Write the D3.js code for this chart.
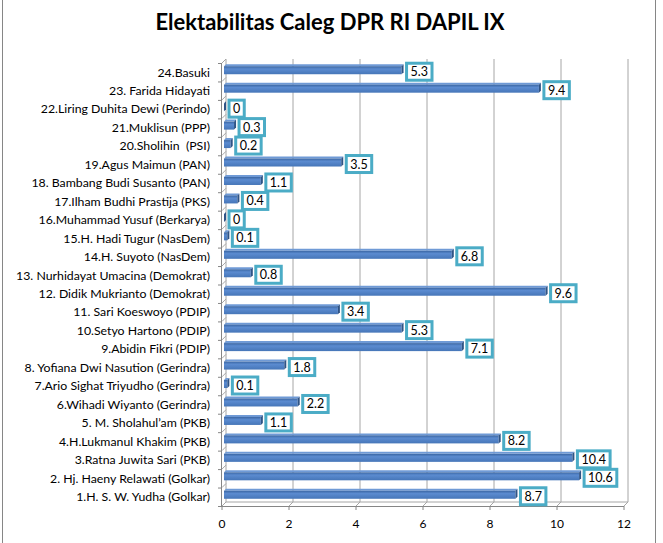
<!DOCTYPE html>
<html><head><meta charset="utf-8">
<script src="https://cdn.jsdelivr.net/npm/d3@7"></script>
<style>body{margin:0;background:#fff}svg{display:block}text{font-family:Lato,"Open Sans",sans-serif}</style>
</head><body><svg id="c" width="663" height="543"></svg>
<script>
const categories = [
"1.H. S. W. Yudha (Golkar)","2. Hj. Haeny Relawati (Golkar)","3.Ratna Juwita Sari (PKB)","4.H.Lukmanul Khakim (PKB)",
"5. M. Sholahul\u2019am (PKB)","6.Wihadi Wiyanto (Gerindra)","7.Ario Sighat Triyudho (Gerindra)","8. Yofiana Dwi Nasution (Gerindra)",
"9.Abidin Fikri (PDIP)","10.Setyo Hartono (PDIP)","11. Sari Koeswoyo (PDIP)","12. Didik Mukrianto (Demokrat)",
"13. Nurhidayat Umacina (Demokrat)","14.H. Suyoto (NasDem)","15.H. Hadi Tugur (NasDem)","16.Muhammad Yusuf (Berkarya)",
"17.Ilham Budhi Prastija (PKS)","18. Bambang Budi Susanto (PAN)","19.Agus Maimun (PAN)","20.Sholihin  (PSI)",
"21.Muklisun (PPP)","22.Liring Duhita Dewi (Perindo)","23. Farida Hidayati","24.Basuki"];
const values = [8.7,10.6,10.4,8.2,1.1,2.2,0.1,1.8,7.1,5.3,3.4,9.6,0.8,6.8,0.1,0,0.4,1.1,3.5,0.2,0.3,0,9.4,5.3];
const xTicks = [0,2,4,6,8,10,12];
const title = "Elektabilitas Caleg DPR RI DAPIL IX";

const svg = d3.select("#c");
const D = 4; // 3D depth
const x = d3.scaleLinear().domain([0,12]).range([222,624]);
const y = d3.scaleBand().domain(categories).range([506,63]);

// outer frame
svg.append("rect").attr("x",2.5).attr("y",-5).attr("width",653).attr("height",560)
  .attr("fill","none").attr("stroke","#868686");

svg.append("text").attr("x",330).attr("y",30).attr("text-anchor","middle")
  .attr("font-size",22).attr("font-weight","bold").attr("fill","#000").text(title);

const grid = svg.append("g").attr("stroke","#a6a6a6").attr("fill","none");
xTicks.forEach(t=>{
  grid.append("line").attr("x1",x(t)+D).attr("x2",x(t)+D).attr("y1",63-D).attr("y2",506-D);
  grid.append("line").attr("x1",x(t)).attr("x2",x(t)+D).attr("y1",506).attr("y2",506-D);
});
grid.append("line").attr("x1",x(0)+D).attr("x2",x(12)+D).attr("y1",506-D).attr("y2",506-D);
y.domain().forEach(c=>{
  const yy = y(c);
  grid.append("line").attr("x1",x(0)).attr("x2",x(0)+D).attr("y1",yy).attr("y2",yy-D);
});
grid.append("line").attr("x1",x(0)).attr("x2",x(0)+D).attr("y1",63).attr("y2",63-D);

const axG = svg.append("g").attr("stroke","#868686");
axG.append("line").attr("x1",x(0)).attr("x2",x(12)).attr("y1",506.5).attr("y2",506.5);
axG.append("line").attr("x1",x(0)-0.5).attr("x2",x(0)-0.5).attr("y1",63).attr("y2",506);
xTicks.forEach(t=>axG.append("line").attr("x1",x(t)).attr("x2",x(t)).attr("y1",506).attr("y2",510));
categories.forEach(c=>axG.append("line").attr("x1",x(0)-4).attr("x2",x(0)).attr("y1",y(c)+0.5).attr("y2",y(c)+0.5));
axG.append("line").attr("x1",x(0)-4).attr("x2",x(0)).attr("y1",506.5).attr("y2",506.5);

svg.append("g").selectAll("text").data(xTicks).join("text")
  .attr("x",d=>x(d)).attr("y",528).attr("text-anchor","middle").attr("font-size",12).attr("fill","#000").text(d=>d);

svg.append("g").selectAll("text").data(categories).join("text")
  .attr("x",210).attr("y",d=>y(d)+y.bandwidth()/2+4.3).attr("text-anchor","end")
  .attr("font-size",12.3).attr("fill","#000").style("white-space","pre").text(d=>d);

const defs = svg.append("defs");
const g = defs.append("linearGradient").attr("id","bg").attr("x1",0).attr("x2",0).attr("y1",0).attr("y2",1);
g.append("stop").attr("offset","0%").attr("stop-color","#3a66a3");
g.append("stop").attr("offset","35%").attr("stop-color","#5b8bd0");
g.append("stop").attr("offset","100%").attr("stop-color","#4676b8");

const bars = svg.append("g");
const H = 8;
categories.forEach((c,i)=>{
  const v = values[i];
  const cy = y(c)+y.bandwidth()/2 - 2;
  const x0 = x(0)+2, x1 = x(v)+2;
  const gb = bars.append("g");
  gb.append("polygon").attr("points",`${x0},${cy-H/2} ${x1},${cy-H/2} ${x1+2},${cy-H/2-2} ${x0+2},${cy-H/2-2}`).attr("fill","#6f9ad6");
  gb.append("rect").attr("x",x0).attr("y",cy-H/2).attr("width",Math.max(0,x1-x0)).attr("height",H).attr("fill","url(#bg)");
  gb.append("polygon").attr("points",`${x1},${cy-H/2} ${x1+2},${cy-H/2-2} ${x1+2},${cy+H/2-2} ${x1},${cy+H/2}`).attr("fill","#2f5486");
  const lg = svg.append("g");
  const t = lg.append("text").attr("font-size",12.5).attr("fill","#000").text(v);
  const tw = t.node().getComputedTextLength();
  const bw = tw+8, bh = 17;
  const bx = x1+2+3;
  lg.insert("rect","text").attr("x",bx).attr("y",cy+1.5-bh/2).attr("width",bw).attr("height",bh)
    .attr("fill","#fff").attr("stroke","#4bacc6").attr("stroke-width",3);
  t.attr("x",bx+bw/2).attr("y",cy+1.5+4.5).attr("text-anchor","middle");
});
</script></body></html>
